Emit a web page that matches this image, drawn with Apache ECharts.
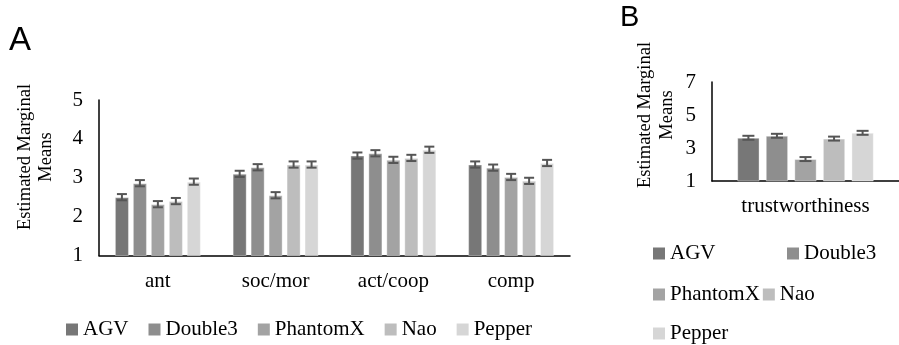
<!DOCTYPE html>
<html>
<head>
<meta charset="utf-8">
<script src="https://cdn.jsdelivr.net/npm/echarts@6/dist/echarts.min.js"></script>
<style>html,body{margin:0;padding:0;background:#fff}#c{width:899px;height:345px}</style>
</head>
<body>
<div id="c"></div>
<script>
// ---- data ----
var robots = ['AGV', 'Double3', 'PhantomX', 'Nao', 'Pepper'];
var colors = ['#777777', '#8e8e8e', '#a3a3a3', '#bdbdbd', '#d6d6d6'];
var categoriesA = ['ant', 'soc/mor', 'act/coop', 'comp'];
var meansA = {
  AGV:      [2.50, 3.10, 3.57, 3.34],
  Double3:  [2.86, 3.27, 3.63, 3.26],
  PhantomX: [2.32, 2.55, 3.46, 3.02],
  Nao:      [2.40, 3.34, 3.51, 2.92],
  Pepper:   [2.90, 3.34, 3.72, 3.38]
};
var errA = 0.08;
var categoriesB = ['trustworthiness'];
var meansB = {
  AGV:      [3.62],
  Double3:  [3.74],
  PhantomX: [2.33],
  Nao:      [3.57],
  Pepper:   [3.92]
};
var errB = 0.12;
var ticksA = [1, 2, 3, 4, 5];
var ticksB = [1, 3, 5, 7];

// ---- chart ----
var SERIF = '"Liberation Serif", "Times New Roman", serif';
var CAT_GAP = 0.27, BAR_GAP = 0.28;
var chart = echarts.init(document.getElementById('c'), null, {renderer: 'canvas'});

function errSeries(axisIdx, means, err, capHalf) {
  var data = [];
  robots.forEach(function (r, s) {
    means[r].forEach(function (v, c) { data.push([c, s, v - err, v + err]); });
  });
  return {
    type: 'custom', xAxisIndex: axisIdx, yAxisIndex: axisIdx, z: 10, silent: true,
    encode: {x: 0, y: [2, 3]},
    data: data,
    renderItem: function (params, api) {
      var c = api.value(0), s = api.value(1), lo = api.value(2), hi = api.value(3);
      var band = api.size([1, 0])[0];
      var group = band * (1 - CAT_GAP);
      var bw = group / (5 + 4 * BAR_GAP);
      var p1 = api.coord([c, lo]), p2 = api.coord([c, hi]);
      var cx = p1[0] - group / 2 + s * bw * (1 + BAR_GAP) + bw / 2;
      var st = {stroke: '#555555', lineWidth: 2};
      return {type: 'group', children: [
        {type: 'line', shape: {x1: cx, y1: p1[1], x2: cx, y2: p2[1]}, style: st},
        {type: 'line', shape: {x1: cx - capHalf, y1: p1[1], x2: cx + capHalf, y2: p1[1]}, style: st},
        {type: 'line', shape: {x1: cx - capHalf, y1: p2[1], x2: cx + capHalf, y2: p2[1]}, style: st}
      ]};
    }
  };
}

var series = [];
robots.forEach(function (r, i) {
  series.push({name: r, type: 'bar', xAxisIndex: 0, yAxisIndex: 0, data: meansA[r],
    barCategoryGap: (CAT_GAP * 100) + '%', barGap: (BAR_GAP * 100) + '%',
    itemStyle: {color: colors[i], borderColor: 'rgba(255,255,255,0.35)', borderWidth: 1}});
});
robots.forEach(function (r, i) {
  series.push({name: r, type: 'bar', xAxisIndex: 1, yAxisIndex: 1, data: meansB[r],
    barCategoryGap: (CAT_GAP * 100) + '%', barGap: (BAR_GAP * 100) + '%',
    itemStyle: {color: colors[i], borderColor: 'rgba(255,255,255,0.35)', borderWidth: 1}});
});
series.push(errSeries(0, meansA, errA, 5));
series.push(errSeries(1, meansB, errB, 6));

function yAxis(idx, ticks) {
  return {
    type: 'value', gridIndex: idx, min: ticks[0], max: ticks[ticks.length - 1],
    interval: ticks[1] - ticks[0],
    axisLine: {show: true, lineStyle: {color: '#000', width: 1.5}},
    axisTick: {show: false}, splitLine: {show: false},
    axisLabel: {color: '#000', fontFamily: SERIF, fontSize: 21, margin: 16}
  };
}
function xAxis(idx, cats) {
  return {
    type: 'category', gridIndex: idx, data: cats,
    axisLine: {show: true, lineStyle: {color: '#000', width: 1.5}},
    axisTick: {show: false},
    axisLabel: {color: '#000', fontFamily: SERIF, fontSize: 21, margin: 15}
  };
}
var legText = {color: '#000', fontFamily: SERIF, fontSize: 21};
function legend(names, left, top, gap) {
  return {data: names, left: left, top: top, orient: 'horizontal', icon: 'rect',
    itemWidth: 12, itemHeight: 12, itemGap: gap, itemStyle: {borderWidth: 0},
    textStyle: legText, padding: 0, selectedMode: false};
}

chart.setOption({
  animation: false,
  backgroundColor: '#fff',
  grid: [
    {left: 99, top: 100, width: 471, height: 155.5},
    {left: 712, top: 82, width: 197, height: 99}
  ],
  xAxis: [xAxis(0, categoriesA), xAxis(1, categoriesB)],
  yAxis: [yAxis(0, ticksA), yAxis(1, ticksB)],
  legend: [
    legend(robots, 66, 319, 20),
    legend(['AGV'], 653, 243, 3),
    legend(['Double3'], 787, 243, 3),
    legend(['PhantomX', 'Nao'], 653, 284, 3),
    legend(['Pepper'], 653, 323, 3)
  ],
  graphic: [
    {type: 'text', x: 9, y: 41, style: {text: 'A', fontFamily: '"Liberation Sans", Arial, sans-serif', fontSize: 33, fill: '#000', align: 'left', verticalAlign: 'middle'}},
    {type: 'text', x: 620, y: 18, style: {text: 'B', fontFamily: '"Liberation Sans", Arial, sans-serif', fontSize: 29, fill: '#000', align: 'left', verticalAlign: 'middle'}},
    {type: 'text', x: 36, y: 157, rotation: Math.PI / 2, style: {text: 'Estimated Marginal\nMeans', fontFamily: SERIF, fontSize: 18.5, lineHeight: 21, fill: '#000', align: 'center', verticalAlign: 'middle'}},
    {type: 'text', x: 656, y: 115, rotation: Math.PI / 2, style: {text: 'Estimated Marginal\nMeans', fontFamily: SERIF, fontSize: 18.5, lineHeight: 22, fill: '#000', align: 'center', verticalAlign: 'middle'}}
  ],
  series: series
});
</script>
</body>
</html>
